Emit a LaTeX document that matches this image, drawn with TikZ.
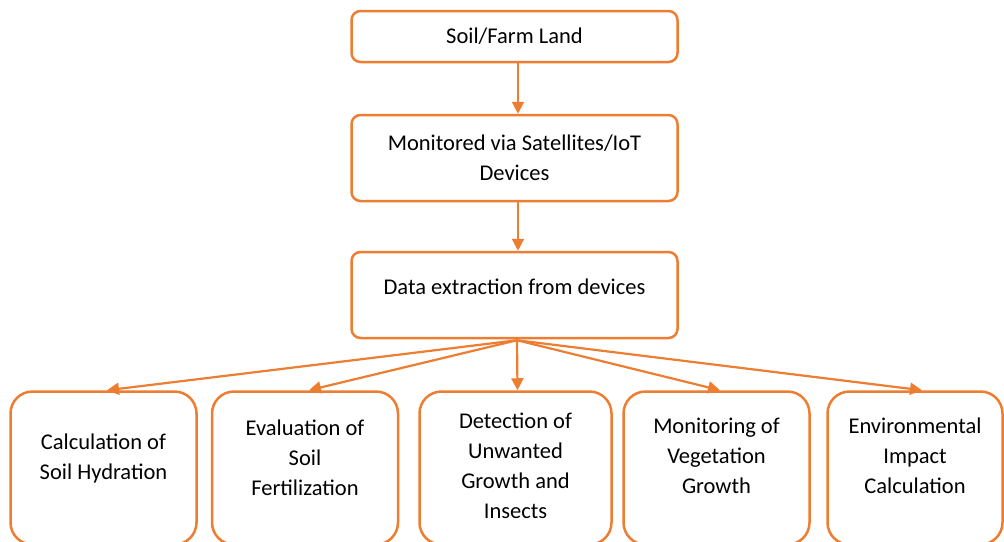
\documentclass[tikz,border=0pt]{standalone}
\usepackage{fontspec}
\setmainfont{Carlito}
\usetikzlibrary{arrows.meta,calc}
\definecolor{accent}{HTML}{ED7D31}
\begin{document}
\begin{tikzpicture}[x=1pt,y=-1pt,
  flow/.style={draw=accent, line width=2.5pt, rounded corners=9pt, fill=white,
               minimum width=326pt, inner sep=0pt},
  leaf/.style={draw=accent, line width=2.5pt, rounded corners=22pt,
               minimum height=153pt, inner sep=0pt},
  lbl/.style={align=center, font=\fontsize{22.5}{30}\selectfont, inner sep=0pt},
  link/.style={draw=accent, line width=2.2pt, -{Triangle[length=12pt,width=12pt]}}]
\clip (0,0) rectangle (1004,541);

% main column
\node[flow, minimum height=51pt, lbl] (soil) at (514.5,36.5) {Soil/Farm Land};
\node[flow, minimum height=86pt, lbl] (mon) at (514.5,158)
  {Monitored via Satellites/IoT\\Devices};
\node[flow, minimum height=86pt] (data) at (514.5,295) {};
\node[lbl] (datatxt) at (514.5,287) {Data extraction from devices};

% result boxes
\node[leaf, minimum width=186pt] (hyd) at (103.5,468) {};
\node[leaf, minimum width=186pt] (fert) at (305,468) {};
\node[leaf, minimum width=192pt] (weed) at (515.5,468) {};
\node[leaf, minimum width=186pt] (veg) at (716.5,468) {};
\node[leaf, minimum width=175pt] (env) at (915,468) {};

\node[lbl] (hydtxt) at (103.5,458) {Calculation of\\Soil Hydration};
\node[lbl] (ferttxt) at (305,458) {Evaluation of\\Soil\\Fertilization};
\node[lbl] (weedtxt) at (515.5,466) {Detection of\\Unwanted\\Growth and\\Insects};
\node[lbl] (vegtxt) at (716.5,456) {Monitoring of\\Vegetation\\Growth};
\node[lbl] (envtxt) at (915,456) {Environmental\\Impact\\Calculation};

% connectors
\draw[link] ($(soil.south)+(3.5,0)$) -- ($(mon.north)+(3.5,0)$);
\draw[link] ($(mon.south)+(3.5,0)$) -- ($(data.north)+(3.5,0)$);
\coordinate (fan) at ($(data.south)+(2.5,1)$);
\draw[link] (fan) -- ($(hyd.north)+(3.5,0)$);
\draw[link] (fan) -- ($(fert.north)+(4,0)$);
\draw[link] (fan) -- ($(weed.north)+(2,0)$);
\draw[link] (fan) -- ($(veg.north)+(3.5,0)$);
\draw[link] (fan) -- ($(env.north)+(7,0)$);
\end{tikzpicture}
\end{document}
